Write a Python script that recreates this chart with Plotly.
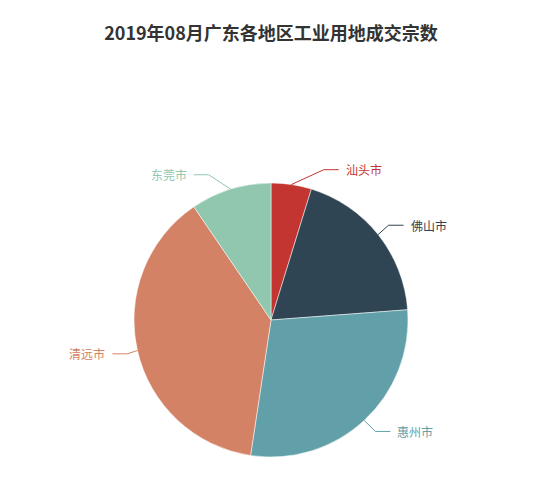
import math
import plotly.graph_objects as go

# data
cities = ["汕头市", "佛山市", "惠州市", "清远市", "东莞市"]
counts = [1, 4, 6, 8, 2]
colors = ["#c23531", "#2f4554", "#61a0a8", "#d48265", "#91c7ae"]

W, H = 550, 490
# page body adds an 8px margin, so positions are shifted back by it
off = 8
cx, cy, r = 271 - off, 320 - off, 137
len1, len2, gap = 15, 15, 5

fig = go.Figure(go.Pie(
    labels=cities, values=counts, sort=False, direction="clockwise", rotation=0,
    marker=dict(colors=colors, line=dict(color="white", width=0.5)),
    textinfo="none", hoverinfo="label+value+percent", showlegend=False,
    domain=dict(x=[(cx - r) / W, (cx + r) / W], y=[1 - (cy + r) / H, 1 - (cy - r) / H]),
))

# label lines, echarts style
total = sum(counts)
items = []
acc = 0
for name, v, c in zip(cities, counts, colors):
    mid = (acc + v / 2) / total * 2 * math.pi
    acc += v
    sx, sy = math.sin(mid), -math.cos(mid)
    items.append(dict(name=name, color=c, dir=1 if sx >= 0 else -1,
                      ex=cx + r * sx, ey=cy + r * sy,
                      y=cy + (r + len1) * sy))

for side in (1, -1):
    lst = sorted([it for it in items if it["dir"] == side], key=lambda it: it["y"])
    up = [it for it in lst if it["y"] < cy]
    down = [it for it in lst if it["y"] >= cy]
    for group, is_down in ((up, False), (down, True)):
        last = 1e9 if is_down else 0
        for it in group:
            dy = abs(it["y"] - cy)
            dx = math.sqrt((r + len1 + len2) ** 2 - dy ** 2)
            if is_down and dx >= last:
                dx = last - 10
            if not is_down and dx <= last:
                dx = last + 10
            it["tx"] = cx + dx * side
            last = dx

for it in items:
    d = it["dir"]
    end = it["tx"] - d * gap
    kink = end - d * len2
    pts = [(it["ex"], it["ey"]), (kink, it["y"]), (end, it["y"])]
    path = "M " + " L ".join(f"{x / W},{1 - y / H}" for x, y in pts)
    fig.add_shape(type="path", path=path, xref="paper", yref="paper",
                  line=dict(color=it["color"], width=1))
    fig.add_annotation(x=it["tx"] / W, y=1 - it["y"] / H, xref="paper", yref="paper",
                       text=it["name"], showarrow=False,
                       xanchor="left" if d > 0 else "right", yanchor="middle",
                       font=dict(size=12, color=it["color"]))

fig.update_layout(
    width=W, height=H, margin=dict(l=0, r=0, t=0, b=0),
    paper_bgcolor="white", plot_bgcolor="white",
    font=dict(family="Noto Sans CJK SC, sans-serif"),
    title=dict(text="<b>2019年08月广东各地区工业用地成交宗数</b>", x=(271 - off) / W, xanchor="center",
               y=1 - (34 - off) / H, yanchor="middle", font=dict(size=18, color="#333333")),
)

fig.write_html("out.html")
